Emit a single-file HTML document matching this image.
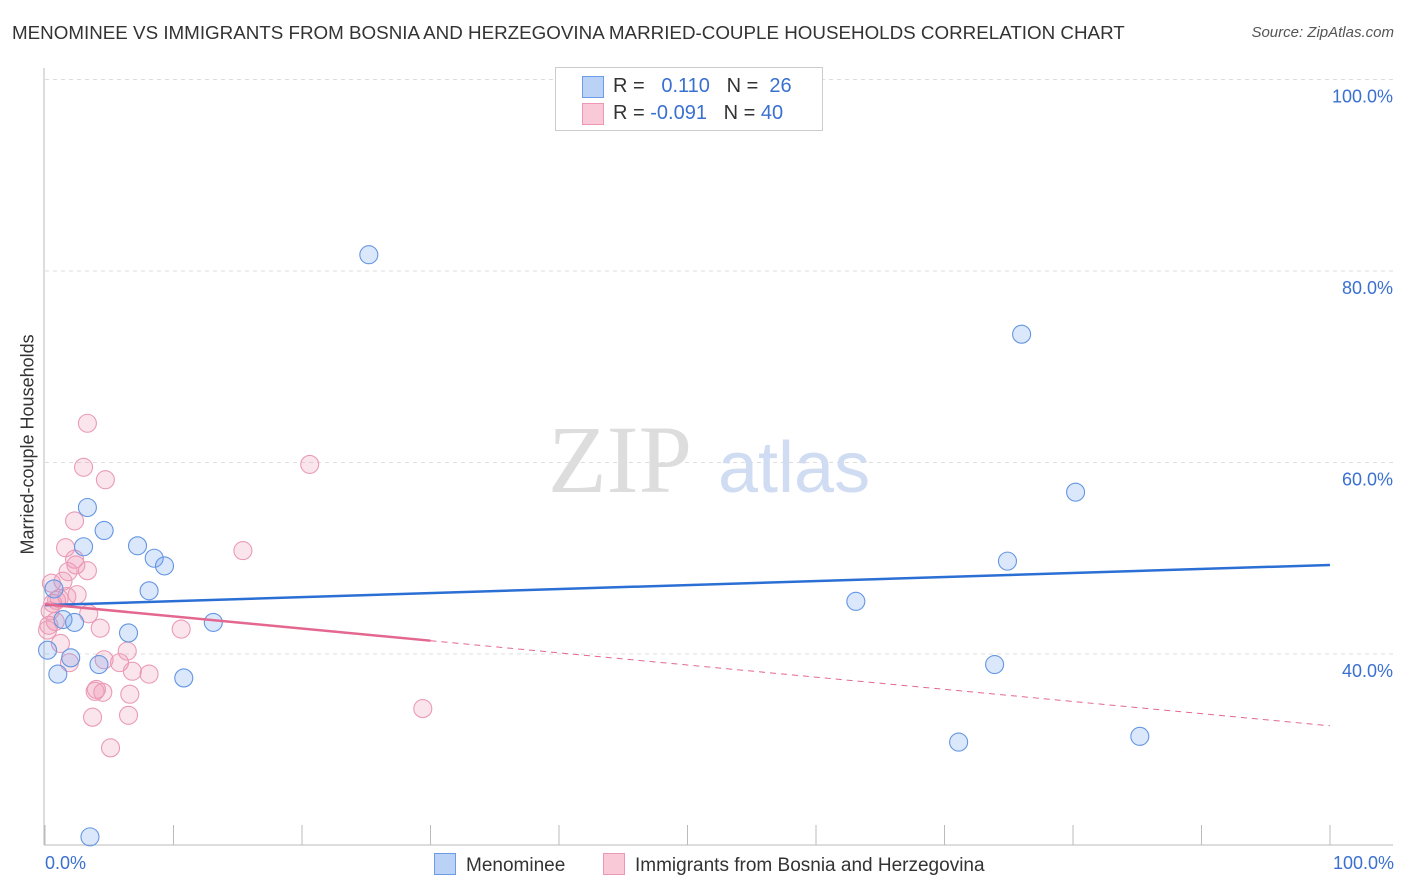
<!DOCTYPE html>
<html><head><meta charset="utf-8"><style>
body{margin:0;background:#fff;font-family:"Liberation Sans",sans-serif;}
#wrap{position:relative;width:1406px;height:892px;overflow:hidden;}
.t{position:absolute;white-space:nowrap;}
</style></head><body><div id="wrap">
<div class="t" style="left:12px;top:22px;font-size:18.8px;color:#333;">MENOMINEE VS IMMIGRANTS FROM BOSNIA AND HERZEGOVINA MARRIED-COUPLE HOUSEHOLDS CORRELATION CHART</div>
<div class="t" style="right:12px;top:24px;font-size:15px;color:#555;font-style:italic;">Source: ZipAtlas.com</div>
<svg id="svg" width="1406" height="892" style="position:absolute;left:0;top:0"></svg>
</div>
<script>
const yTicks=[40,60,80,100];
const yTickLabels=["40.0%","60.0%","80.0%","100.0%"];
const blueX=[25.2,76.0,80.2,74.9,63.1,73.9,71.1,85.2,3.3,4.6,3.0,7.2,8.5,9.3,8.1,0.7,1.4,2.3,13.1,6.5,0.2,2.0,4.2,1.0,10.8,3.5];
const blueY=[81.7,73.4,56.9,49.7,45.5,38.9,30.8,31.4,55.3,52.9,51.2,51.3,50.0,49.2,46.6,46.8,43.6,43.3,43.3,42.2,40.4,39.6,38.9,37.9,37.5,20.9];
const pinkX=[3.3,3.0,4.7,20.6,2.3,15.4,1.6,2.3,2.4,3.3,1.8,1.4,0.5,1.1,1.7,0.6,0.4,3.4,0.8,0.3,4.3,10.6,1.2,29.4,6.4,4.6,5.8,6.8,8.1,1.9,4.0,3.9,4.5,6.6,3.7,6.5,5.1,0.9,0.2,2.5];
const pinkY=[64.1,59.5,58.2,59.8,53.9,50.8,51.1,49.9,49.3,48.7,48.6,47.6,47.4,45.8,46.0,45.3,44.5,44.2,43.4,43.0,42.7,42.6,41.1,34.3,40.3,39.4,39.1,38.2,37.9,39.1,36.3,36.1,36.0,35.8,33.4,33.6,30.2,45.6,42.5,46.2];
const blueTrend=[45.1,49.3];
const pinkTrend=[45.2,32.5];
const pinkSolidEnd=30;
const X=v=>45+v*12.85, Y=v=>654-(v-40)*9.575;
const svg=document.getElementById('svg');
const NS='http://www.w3.org/2000/svg';
function mk(tag,at){const e=document.createElementNS(NS,tag);for(const k in at)e.setAttribute(k,at[k]);svg.appendChild(e);return e;}
let e;
yTicks.forEach((t,i)=>{
 e=mk('line',{x1:45,x2:1393,y1:Y(t),y2:Y(t),stroke:'#ddd','stroke-dasharray':'4,4'});
 
 
 e=mk('text',{x:1393,y:Y(t)+23,'text-anchor':'end','font-size':18,fill:'#3a70d0','font-family':'Liberation Sans'});
 e.textContent=yTickLabels[i];
 
 
});
e=mk('line',{x1:44,x2:44,y1:68,y2:845,stroke:'#bbb'});


e=mk('line',{x1:44,x2:1393,y1:845,y2:845,stroke:'#bbb'});


for(let i=0;i<=10;i++){
 e=mk('line',{x1:X(i*10),x2:X(i*10),y1:825,y2:845,stroke:'#bbb'});
 
 
}
e=mk('text',{x:548,y:492,'font-size':96,fill:'#ddd','font-family':'Liberation Serif'});e.textContent='ZIP';


e=mk('text',{x:718,y:492,'font-size':72,fill:'#cfdcf2','font-family':'Liberation Sans'});e.textContent='atlas';


function dots(xs,ys,fill,stroke,name){xs.forEach((x,i)=>{
 const c=mk('circle',{cx:X(x),cy:Y(ys[i]),r:9,fill:fill,stroke:stroke,'stroke-width':1.1});
 
 
});}
dots(pinkX,pinkY,'rgba(240,150,180,0.25)','#ea9ab7','pink-point');
dots(blueX,blueY,'rgba(110,160,235,0.25)','#6496e2','blue-point');
e=mk('line',{x1:X(0),x2:X(100),y1:Y(blueTrend[0]),y2:Y(blueTrend[1]),stroke:'#2b6fd4','stroke-width':2.5});


const pAt=v=>pinkTrend[0]+(pinkTrend[1]-pinkTrend[0])*v/100;
e=mk('line',{x1:X(0),x2:X(pinkSolidEnd),y1:Y(pAt(0)),y2:Y(pAt(pinkSolidEnd)),stroke:'#e4678f','stroke-width':2.5});


e=mk('line',{x1:X(pinkSolidEnd),x2:X(100),y1:Y(pAt(pinkSolidEnd)),y2:Y(pAt(100)),stroke:'#e4678f','stroke-width':1,'stroke-dasharray':'6,5'});


</script>
<div class="t" style="left:-72px;top:444px;font-size:18px;color:#333;transform:rotate(-90deg);width:200px;text-align:center;">Married-couple Households</div>
<div class="t" style="left:45px;top:853px;font-size:18px;color:#3a70d0;">0.0%</div>
<div class="t" style="right:12px;top:853px;font-size:18px;color:#3a70d0;">100.0%</div>
<div style="position:absolute;left:555px;top:67px;width:266px;height:62px;border:1px solid #ccc;background:#fff;font-size:20px;color:#333;">
 <div style="position:absolute;left:26px;top:8px;width:20px;height:20px;background:#b9d2f5;border:1px solid #6d9ce6;"></div>
 <div class="t" style="left:57px;top:7px;">R = &nbsp;&nbsp;<span style="color:#3a70d0">0.110</span>&nbsp;&nbsp;&nbsp;N = &nbsp;<span style="color:#3a70d0">26</span></div>
 <div style="position:absolute;left:26px;top:35px;width:20px;height:20px;background:#f9c9d8;border:1px solid #ec98b5;"></div>
 <div class="t" style="left:57px;top:34px;">R = <span style="color:#3a70d0">-0.091</span>&nbsp;&nbsp;&nbsp;N = <span style="color:#3a70d0">40</span></div>
</div>
<div style="position:absolute;left:434px;top:853px;font-size:19px;color:#333;">
 <span style="display:inline-block;width:20px;height:20px;background:#b9d2f5;border:1px solid #6d9ce6;vertical-align:-4px;margin-right:10px;"></span>Menominee</div>
<div style="position:absolute;left:603px;top:853px;font-size:19px;color:#333;">
 <span style="display:inline-block;width:20px;height:20px;background:#f9c9d8;border:1px solid #ec98b5;vertical-align:-4px;margin-right:10px;"></span>Immigrants from Bosnia and Herzegovina</div>
</body></html>
